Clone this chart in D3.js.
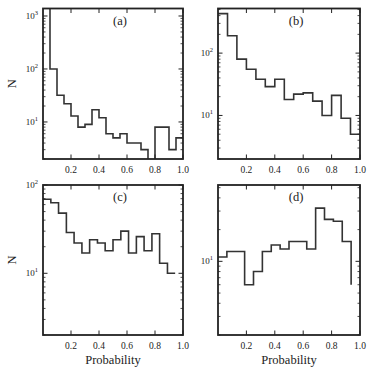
<!DOCTYPE html>
<html>
<head>
<meta charset="utf-8">
<script src="https://cdn.jsdelivr.net/npm/d3@7"></script>
<style>
  html, body { margin: 0; padding: 0; background: #fff; }
  svg { display: block; }
  svg text { font-family: "Liberation Serif", "Times New Roman", "DejaVu Serif", serif; }
</style>
</head>
<body>
<div id="canvas"></div>
<script>
// bin left edges (probability) and counts
const probsA = [0, 0.05, 0.1, 0.15, 0.2, 0.25, 0.3, 0.35, 0.4, 0.45, 0.5, 0.55, 0.6, 0.65, 0.7, 0.75, 0.8, 0.85, 0.9, 0.95, 1.0];
const countsA = [1800, 100, 32, 22, 13, 8, 9, 17, 12, 6, 5, 6, 4, 4, 3, 0, 8, 8, 3, 5, 5];

const probsB = [0, 0.067, 0.133, 0.2, 0.267, 0.333, 0.4, 0.467, 0.533, 0.6, 0.667, 0.733, 0.8, 0.867, 0.933, 1.0];
const countsB = [430, 190, 80, 55, 38, 29, 38, 18, 22, 23, 17, 10, 21, 9, 5, 5];

const probsC = [0, 0.056, 0.111, 0.167, 0.222, 0.278, 0.333, 0.389, 0.444, 0.5, 0.556, 0.611, 0.667, 0.722, 0.778, 0.833, 0.889, 0.944];
const countsC = [69, 63, 48, 29, 22, 17, 24, 22, 18, 24, 30, 17, 26, 18, 28, 13, 10, 10];

const probsD = [0, 0.0625, 0.125, 0.1875, 0.25, 0.3125, 0.375, 0.4375, 0.5, 0.5625, 0.625, 0.6875, 0.75, 0.8125, 0.875, 0.9375];
const countsD = [11, 12.4, 12.4, 6, 8, 12.4, 14.3, 13.1, 15.4, 15.4, 13.1, 32, 25, 24, 15.4, 6];

const yLimits = { a: [2, 1385], b: [2, 520], c: [2, 100], d: [2, 53] };
const xTicks = [0.2, 0.4, 0.6, 0.8, 1.0];

const width = 375, height = 375;
const ink = "#222";

const panels = [
    { id: "a", probs: probsA, counts: countsA, x0: 43, x1: 183, y0: 8.5, y1: 159, ylab: true, xlab: false },
    { id: "b", probs: probsB, counts: countsB, x0: 218, x1: 360, y0: 8.5, y1: 159, ylab: false, xlab: false },
    { id: "c", probs: probsC, counts: countsC, x0: 43, x1: 183, y0: 185, y1: 335, ylab: true, xlab: true },
    { id: "d", probs: probsD, counts: countsD, x0: 218, x1: 360, y0: 185, y1: 335, ylab: false, xlab: true }
];

const svg = d3.select("#canvas")
    .append("svg")
    .attr("width", width)
    .attr("height", height)
    .attr("viewBox", [0, 0, width, height]);

const defs = svg.append("defs");

panels.forEach(p => {
    const x = d3.scaleLinear().domain([0, 1]).range([p.x0, p.x1]);
    const y = d3.scaleLog().domain(yLimits[p.id]).range([p.y1, p.y0]);
    const g = svg.append("g");

    defs.append("clipPath").attr("id", "clip-" + p.id)
        .append("rect")
        .attr("x", p.x0).attr("y", p.y0)
        .attr("width", p.x1 - p.x0).attr("height", p.y1 - p.y0);

    // histogram drawn as steps-post; empty bins fall below the axis
    const pts = p.probs.map((d, i) => [x(d), p.counts[i] > 0 ? y(p.counts[i]) : p.y1 + 20]);
    g.append("path")
        .attr("d", d3.line().curve(d3.curveStepAfter)(pts))
        .attr("fill", "none")
        .attr("stroke", "#333")
        .attr("stroke-width", 1.6)
        .attr("clip-path", "url(#clip-" + p.id + ")");

    // y ticks, major at decades and minor in between, on both sides
    const [lo, hi] = yLimits[p.id];
    const majors = [], minors = [];
    for (let e = Math.floor(Math.log10(lo)); e <= Math.ceil(Math.log10(hi)); e++) {
        for (let m = 1; m < 10; m++) {
            const v = m * Math.pow(10, e);
            if (v < lo * 0.999 || v > hi * 1.001) continue;
            (m === 1 ? majors : minors).push(v);
        }
    }
    [[p.x0, 1], [p.x1, -1]].forEach(([sx, dir]) => {
        g.selectAll(null).data(majors).join("line")
            .attr("x1", sx).attr("x2", sx + dir * 4.5)
            .attr("y1", d => y(d)).attr("y2", d => y(d))
            .attr("stroke", ink).attr("stroke-width", 1);
        g.selectAll(null).data(minors).join("line")
            .attr("x1", sx).attr("x2", sx + dir * 2.5)
            .attr("y1", d => y(d)).attr("y2", d => y(d))
            .attr("stroke", ink).attr("stroke-width", 0.8);
    });

    const yl = g.selectAll(null).data(majors).join("text")
        .attr("x", p.x0 - 5)
        .attr("y", d => y(d) + 3)
        .attr("text-anchor", "end")
        .attr("font-size", 9)
        .attr("fill", ink);
    yl.append("tspan").text("10");
    yl.append("tspan").attr("dy", -4).attr("font-size", 6.5).text(d => Math.round(Math.log10(d)));

    // x ticks top and bottom, inward
    [[p.y1, -1], [p.y0, 1]].forEach(([sy, dir]) => {
        g.selectAll(null).data(xTicks).join("line")
            .attr("x1", d => x(d)).attr("x2", d => x(d))
            .attr("y1", sy).attr("y2", sy + dir * 4.5)
            .attr("stroke", ink).attr("stroke-width", 1);
    });
    g.selectAll(null).data(xTicks).join("text")
        .attr("x", d => x(d))
        .attr("y", p.y1 + 14)
        .attr("text-anchor", "middle")
        .attr("font-size", 9.5)
        .attr("fill", ink)
        .text(d => d.toFixed(1));

    // frame
    g.append("rect")
        .attr("x", p.x0).attr("y", p.y0)
        .attr("width", p.x1 - p.x0).attr("height", p.y1 - p.y0)
        .attr("fill", "none")
        .attr("stroke", ink)
        .attr("stroke-width", 1.8);

    g.append("text")
        .attr("x", x(0.55))
        .attr("y", p.y0 + 16)
        .attr("text-anchor", "middle")
        .attr("font-size", 12.5)
        .attr("fill", ink)
        .text("(" + p.id + ")");

    if (p.ylab) {
        g.append("text")
            .attr("transform", `translate(16,${(p.y0 + p.y1) / 2}) rotate(-90)`)
            .attr("text-anchor", "middle")
            .attr("font-size", 12.5)
            .attr("fill", ink)
            .text("N");
    }
    if (p.xlab) {
        g.append("text")
            .attr("x", (p.x0 + p.x1) / 2)
            .attr("y", p.y1 + 29)
            .attr("text-anchor", "middle")
            .attr("font-size", 12.5)
            .attr("fill", ink)
            .text("Probability");
    }
});
</script>
</body>
</html>
